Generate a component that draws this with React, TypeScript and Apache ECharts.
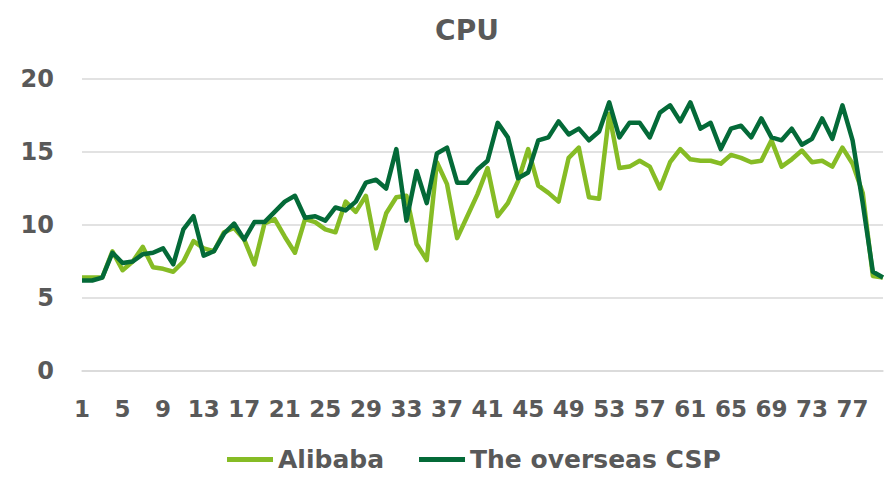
import React, { useEffect, useRef } from "react";
import * as echarts from "echarts";

const categories: string[] = Array.from({ length: 80 }, (_, i) => String(i + 1));

const alibaba: number[] = [
  6.4, 6.4, 6.4, 8.2, 6.9, 7.5, 8.5, 7.1, 7.0, 6.8,
  7.5, 8.9, 8.4, 8.2, 9.5, 9.8, 9.0, 7.3, 10.1, 10.4,
  9.2, 8.1, 10.4, 10.2, 9.7, 9.5, 11.6, 10.9, 12.0, 8.4,
  10.8, 11.9, 12.0, 8.7, 7.6, 14.3, 12.8, 9.1, 10.6, 12.1,
  13.9, 10.6, 11.5, 13.0, 15.2, 12.7, 12.2, 11.6, 14.6, 15.3,
  11.9, 11.8, 17.6, 13.9, 14.0, 14.4, 14.0, 12.5, 14.3, 15.2,
  14.5, 14.4, 14.4, 14.2, 14.8, 14.6, 14.3, 14.4, 15.8, 14.0,
  14.5, 15.1, 14.3, 14.4, 14.0, 15.3, 14.2, 12.2, 6.5, 6.4,
];

const overseasCSP: number[] = [
  6.2, 6.2, 6.4, 8.1, 7.4, 7.5, 8.0, 8.1, 8.4, 7.3,
  9.7, 10.6, 7.9, 8.2, 9.4, 10.1, 9.0, 10.2, 10.2, 10.9,
  11.6, 12.0, 10.5, 10.6, 10.3, 11.2, 11.0, 11.6, 12.9, 13.1,
  12.5, 15.2, 10.3, 13.7, 11.5, 14.9, 15.3, 12.9, 12.9, 13.8,
  14.4, 17.0, 16.0, 13.2, 13.6, 15.8, 16.0, 17.1, 16.2, 16.6,
  15.8, 16.4, 18.4, 16.0, 17.0, 17.0, 16.0, 17.7, 18.2, 17.1,
  18.4, 16.6, 17.0, 15.2, 16.6, 16.8, 16.0, 17.3, 16.0, 15.8,
  16.6, 15.5, 15.9, 17.3, 15.9, 18.2, 15.8, 11.5, 6.8, 6.4,
];

const yTicks = { min: 0, max: 20, interval: 5 };

const LIGHT = "#86BC25";
const DARK = "#046A38";
const TEXT = "#595959";
const FONT = "'DejaVu Sans', Verdana, sans-serif";

export default function App() {
  const ref = useRef<HTMLDivElement>(null);
  useEffect(() => {
    document.body.style.margin = "0";
    const chart = echarts.init(ref.current!, null, { renderer: "svg" });
    chart.setOption({
      animation: false,
      backgroundColor: "#ffffff",
      title: {
        text: "CPU",
        left: 462,
        top: 11,
        textAlign: "center",
        textStyle: { color: TEXT, fontSize: 28, fontWeight: "bold", fontFamily: FONT },
      },
      legend: {
        bottom: 1,
        left: 222,
        itemWidth: 46,
        itemHeight: 5,
        itemGap: 35,
        icon: "rect",
        textStyle: { color: TEXT, fontSize: 25, fontWeight: "bold", fontFamily: FONT },
        data: ["Alibaba", "The overseas CSP"],
      },
      grid: { left: 82, right: 3, top: 79, bottom: 107, containLabel: false },
      xAxis: {
        type: "category",
        data: categories,
        boundaryGap: false,
        axisLine: { show: true, lineStyle: { color: "#D9D9D9", width: 1.5 } },
        axisTick: { show: false },
        axisLabel: {
          interval: 3,
          margin: 26,
          color: TEXT,
          fontSize: 23,
          fontWeight: "bold",
          fontFamily: FONT,
        },
        splitLine: { show: false },
      },
      yAxis: {
        type: "value",
        min: yTicks.min,
        max: yTicks.max,
        interval: yTicks.interval,
        axisLine: { show: false },
        axisTick: { show: false },
        axisLabel: { margin: 28, color: TEXT, fontSize: 24, fontWeight: "bold", fontFamily: FONT },
        splitLine: { lineStyle: { color: "#D9D9D9", width: 1.5 } },
      },
      series: [
        {
          name: "Alibaba",
          type: "line",
          data: alibaba,
          symbol: "none",
          lineStyle: { color: LIGHT, width: 4.5, join: "round" },
          itemStyle: { color: LIGHT },
        },
        {
          name: "The overseas CSP",
          type: "line",
          data: overseasCSP,
          symbol: "none",
          lineStyle: { color: DARK, width: 4.5, join: "round" },
          itemStyle: { color: DARK },
        },
      ],
    });
    return () => chart.dispose();
  }, []);
  return <div ref={ref} style={{ width: 886, height: 478 }} />;
}
